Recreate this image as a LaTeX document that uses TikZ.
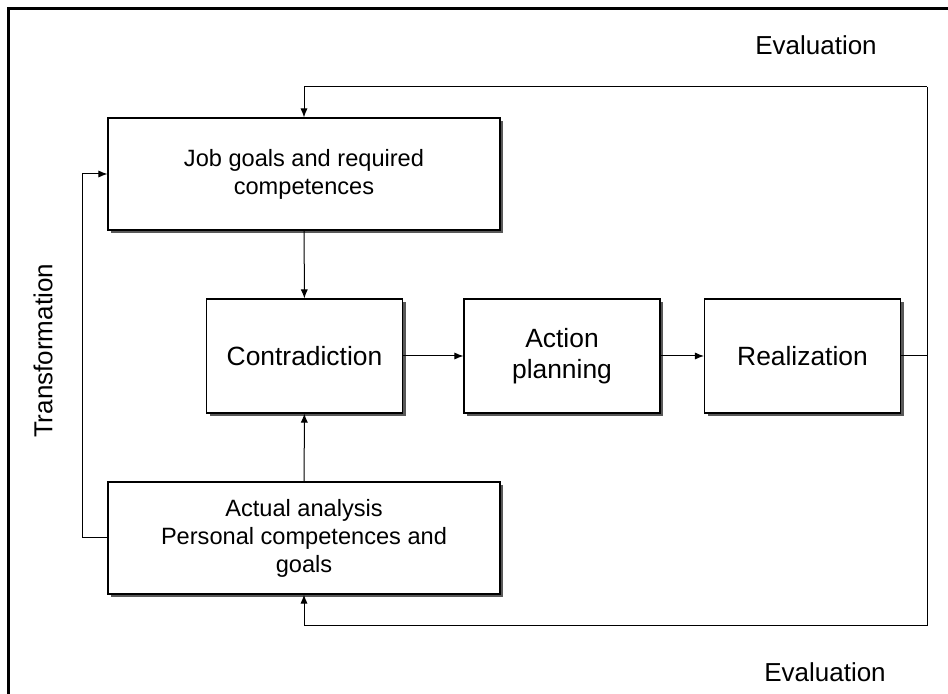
\documentclass[tikz,border=0pt]{standalone}
\usepackage{fontspec}
\setmainfont{Liberation Sans}
\usetikzlibrary{arrows.meta}
\usetikzlibrary{shadows}

\begin{document}
\begin{tikzpicture}[x = .5pt, y = -.5pt]
				    \tikzstyle{box}=[draw,line width = .6pt,black,fill=white,align=center,inner sep=0pt,
				        drop shadow={shadow xshift=1.5pt,shadow yshift=-1.5pt,fill=black!65,opacity=1}]
				    \tikzstyle{wide}=[box,minimum width=196pt,minimum height=56pt,font=\fontsize{11.8}{14}\selectfont]
				    \tikzstyle{step box}=[box,minimum width=98pt,minimum height=57pt,font=\fontsize{13.2}{15.8}\selectfont]
				    \tikzstyle{flow}=[draw,line width = .5pt,-,black]
				    \tikzstyle{arrow}=[flow,-{Latex[length=4.5pt,width=3.6pt]}]
				    \tikzstyle{label}=[font=\fontsize{13}{15}\selectfont]
				    \useasboundingbox (0,0) rectangle (948,694);
				    \draw[line width = 1.5pt] (8.5,8.5) rectangle (970,720);
				    \node[wide] (job) at (304,174) {Job goals and required\\competences};
				    \node[step box] (contra) at (304.5,356) {Contradiction};
				    \node[step box] (plan) at (562,356) {Action\\planning};
				    \node[step box] (real) at (802.5,356) {Realization};
				    \node[wide] (actual) at (304,538) {Actual analysis\\Personal competences and\\goals};
				    \node[label] (evtop) at (816,45) {Evaluation};
				    \node[label] (evbot) at (825,672) {Evaluation};
				    \node[label,rotate=90] (trans) at (43,351) {Transformation};
				    \coordinate (ne) at (927,87);
				    \coordinate (se) at (927,626);
				    \coordinate (bend) at (82,538);
				    \draw[arrow] (job) -- (contra);
				    \draw[arrow] (actual) -- (contra);
				    \draw[arrow] (contra) -- (plan);
				    \draw[arrow] (plan) -- (real);
				    \draw[flow] (real.east) -- (real.east -| ne);
				    \draw[flow] (ne) -- (se);
				    \draw[arrow] (ne) -| (job.north);
				    \draw[arrow] (se) -| (actual.south);
				    \draw[arrow] (actual.west) -- (bend) |- (job.west);
				\end{tikzpicture}
\end{document}
